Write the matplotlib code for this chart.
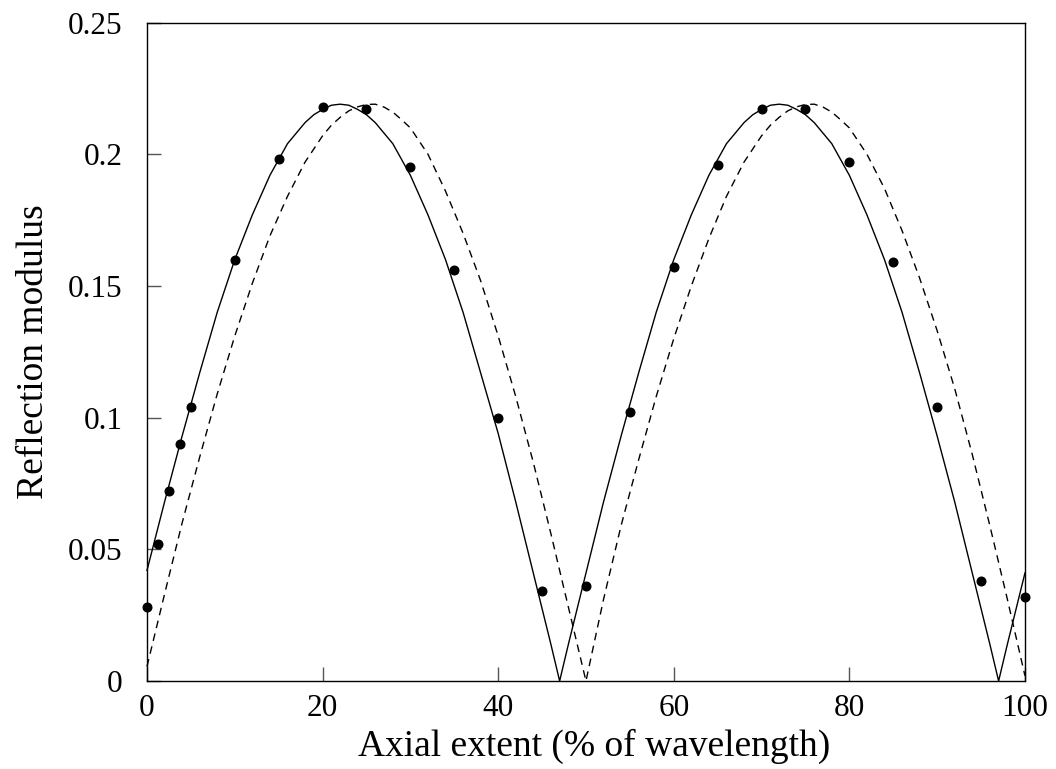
import matplotlib
matplotlib.use("Agg")
import matplotlib.pyplot as plt

# solid curve
x_solid = [0, 2, 4, 6, 8, 10, 12, 14, 16, 17, 18, 19, 20, 21, 22, 23, 24, 25, 26, 27, 28,
           30, 32, 34, 36, 38, 40, 42, 44, 46, 47, 48,
           50, 52, 54, 56, 58, 60, 62, 64, 66, 67, 68, 69, 70, 71, 72, 73, 74, 75, 76, 77,
           78, 80, 82, 84, 86, 88, 90, 92, 94, 96, 97, 98, 100]
y_solid = [0.042, 0.068, 0.093, 0.117, 0.140, 0.160, 0.177, 0.192, 0.204, 0.208, 0.212,
           0.215, 0.217, 0.2186, 0.219, 0.2186, 0.217, 0.215, 0.212, 0.208, 0.204,
           0.192, 0.177, 0.160, 0.140, 0.117, 0.094, 0.068, 0.041, 0.014, 0.0, 0.014,
           0.041, 0.068, 0.093, 0.117, 0.140, 0.160, 0.177, 0.192, 0.204, 0.208, 0.212,
           0.215, 0.217, 0.2186, 0.219, 0.2186, 0.217, 0.215, 0.212, 0.208,
           0.204, 0.192, 0.177, 0.160, 0.140, 0.117, 0.093, 0.068, 0.041, 0.014, 0.0,
           0.014, 0.041]

# dashed curve
x_dash = [0, 2, 4, 6, 8, 10, 12, 14, 16, 18, 19, 20, 21, 22, 23, 24, 25, 26, 27, 28, 29,
          30, 32, 34, 36, 38, 40, 42, 44, 46, 48,
          50, 52, 54, 56, 58, 60, 62, 64, 66, 68, 69, 70, 71, 72, 73, 74, 75, 76, 77, 78,
          79, 80, 82, 84, 86, 88, 90, 92, 94, 96, 98, 100]
y_dash = [0.0055, 0.033, 0.060, 0.085, 0.109, 0.131, 0.151, 0.169, 0.184, 0.197, 0.202,
          0.207, 0.211, 0.214, 0.2165, 0.218, 0.2189, 0.219, 0.2179, 0.216, 0.2131,
          0.210, 0.200, 0.186, 0.170, 0.152, 0.131, 0.108, 0.083, 0.056, 0.028,
          0.0, 0.031, 0.059, 0.084, 0.108, 0.130, 0.150, 0.168, 0.184, 0.197, 0.202,
          0.207, 0.211, 0.214, 0.2165, 0.218, 0.2189, 0.219, 0.2179, 0.216,
          0.2131, 0.210, 0.200, 0.187, 0.171, 0.153, 0.133, 0.111, 0.086, 0.059, 0.031,
          0.002]

# measured points
x_pts = [0, 1.25, 2.5, 3.75, 5, 10, 15, 20, 25, 30, 35, 40, 45, 50, 55, 60, 65, 70, 75,
         80, 85, 90, 95, 100]
y_pts = [0.028, 0.052, 0.072, 0.090, 0.104, 0.160, 0.198, 0.218, 0.217, 0.195, 0.156,
         0.100, 0.034, 0.036, 0.102, 0.157, 0.196, 0.217, 0.217, 0.197, 0.159, 0.104,
         0.038, 0.032]

xticks = [0, 20, 40, 60, 80, 100]
yticks = [0, 0.05, 0.1, 0.15, 0.2, 0.25]
ytick_labels = ["0", "0.05", "0.1", "0.15", "0.2", "0.25"]

plt.rcParams['font.family'] = ['Liberation Serif', 'DejaVu Serif']

fig = plt.figure(figsize=(10.56, 7.69), dpi=100)
ax = fig.add_axes([0.1392, 0.1144, 0.8314, 0.8563])

ax.plot(x_solid, y_solid, color='black', lw=1.0, clip_on=False)
ax.plot(x_dash, y_dash, color='black', lw=1.0, linestyle=(0, (5.5, 4)), clip_on=False)
ax.plot(x_pts, y_pts, 'o', color='black', markersize=6.2, clip_on=False, zorder=5)

ax.set_xlim(0, 100)
ax.set_ylim(0, 0.25)
ax.set_xticks(xticks)
ax.set_xticklabels([str(t) for t in xticks])
ax.set_yticks(yticks)
ax.set_yticklabels(ytick_labels)

ax.tick_params(direction='in', length=10, width=1, color='#555555', labelsize=22.5)
ax.tick_params(axis='x', pad=9)
ax.tick_params(axis='y', pad=17.5)
for s in ax.spines.values():
    s.set_linewidth(1.0)

ax.set_xlabel("Axial extent (% of wavelength)", fontsize=27)
ax.xaxis.set_label_coords(0.509, -0.072)
ax.set_ylabel("Reflection modulus", fontsize=27, labelpad=12)

fig.savefig("out.png", dpi=100)
